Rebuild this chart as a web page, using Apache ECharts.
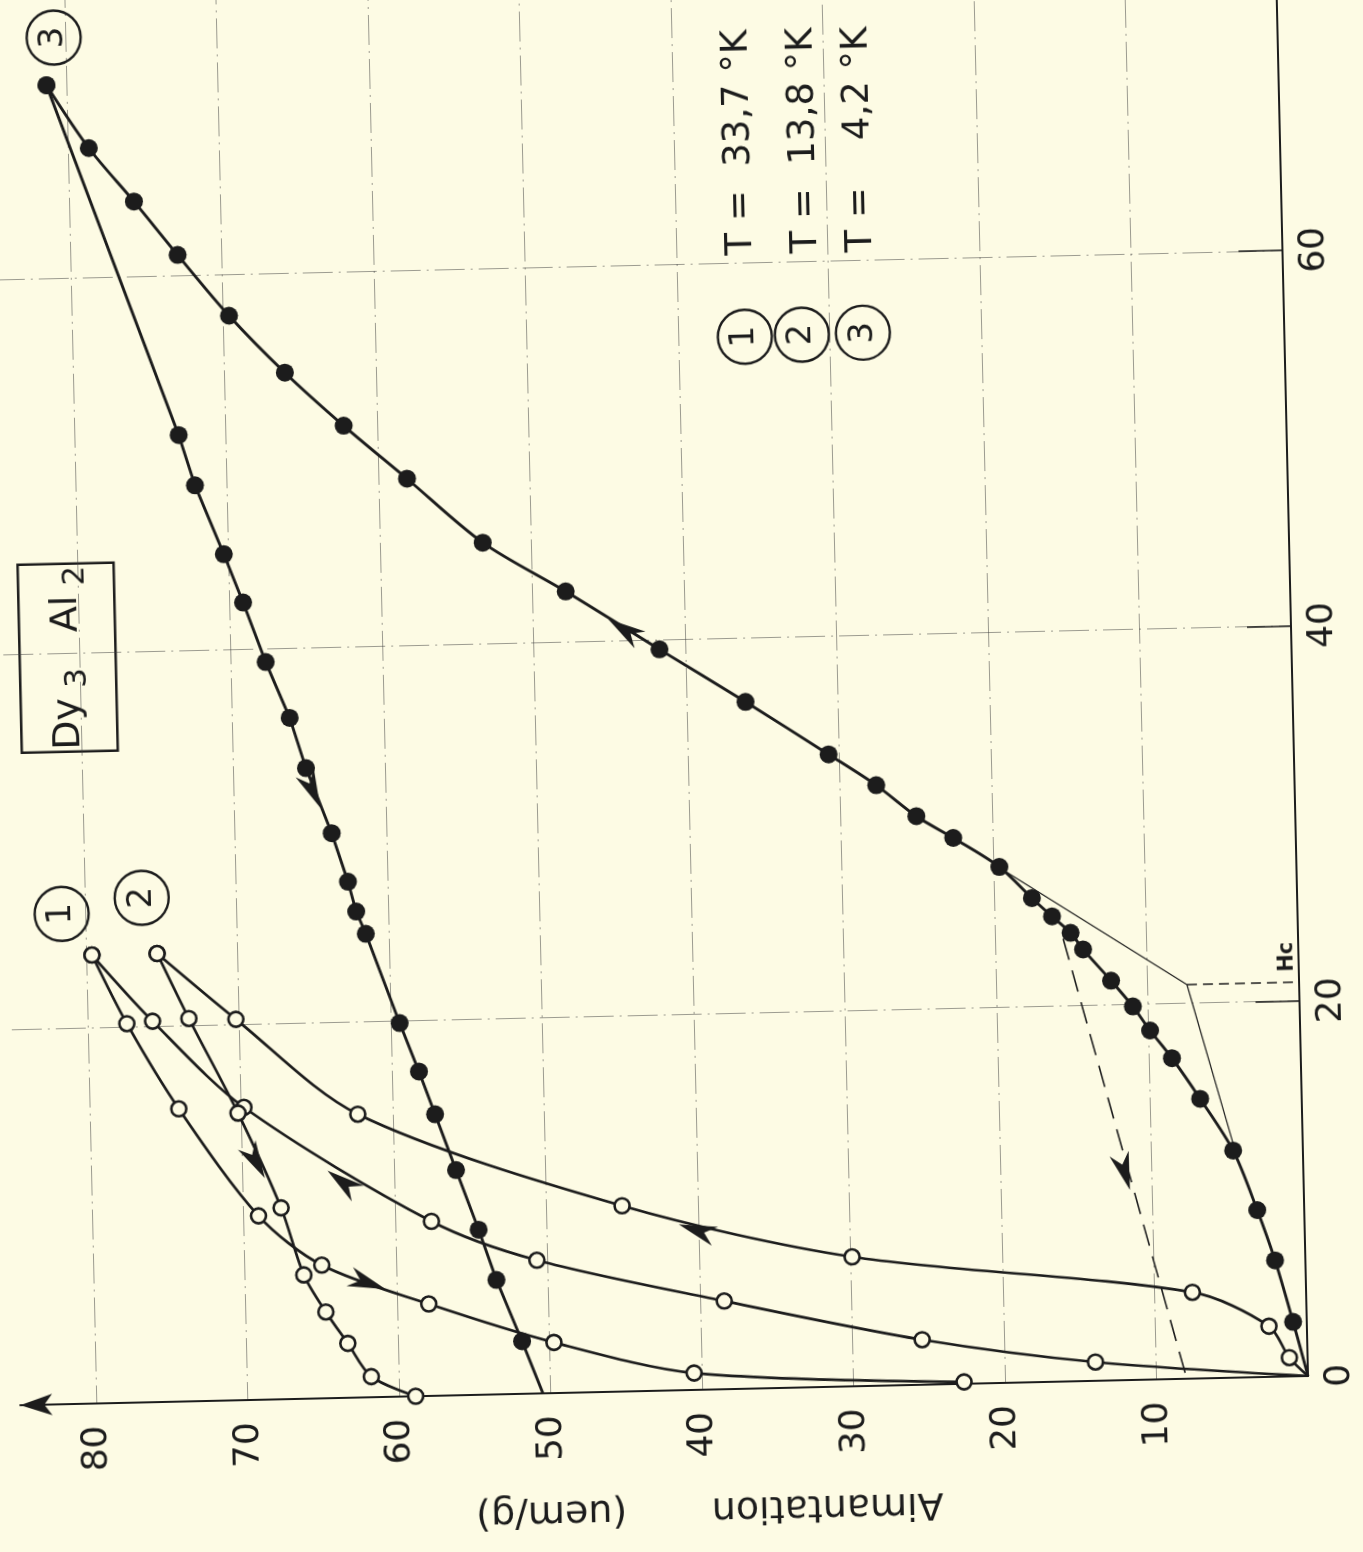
<!DOCTYPE html>
<html>
<head>
<meta charset="utf-8">
<script src="https://cdn.jsdelivr.net/npm/echarts@6/dist/echarts.min.js"></script>
<style>
html,body{margin:0;padding:0;width:1363px;height:1552px;overflow:hidden;background:#fdfbe4;}
#chart{position:absolute;left:0;top:-50px;width:1363px;height:1602px;transform-origin:1308px 1426px;transform:rotate(-1.3deg);}
</style>
</head>
<body>
<div id="chart"></div>
<script>
// ---- Data: magnetisation M (uem/g) versus applied field H (kOe), Dy3Al2 ----
const magTicks = [10, 20, 30, 40, 50, 60, 70, 80];
const fieldTicks = [0, 20, 40, 60];
const fieldGridTicks = [20, 40, 60];
const origin = [0, 0];

// Curve 1 : T = 33,7 K (open circles)
const c1UpM = [14.0, 25.4, 38.4, 50.7, 57.6, 69.8, 75.7, 79.6];
const c1UpH = [1.0, 2.4, 4.7, 7.1, 9.3, 15.6, 20.3, 23.9];
const c1DownM = [79.6, 77.4, 74.1, 69.0, 64.9, 57.9, 49.7, 40.5, 22.7];
const c1DownH = [23.9, 20.2, 15.6, 9.8, 7.1, 4.9, 2.7, 0.9, 0.1];

// Curve 2 : T = 13,8 K (open circles)
const c2UpM = [1.2, 2.5, 7.5, 29.9, 45.0, 62.3, 70.2, 75.3];
const c2UpH = [1.0, 2.7, 4.6, 6.9, 9.9, 15.1, 20.3, 23.9];
const c2DownM = [75.3, 73.3, 70.2, 67.5, 66.1, 64.7, 63.3, 61.8, 58.9];
const c2DownH = [23.9, 20.4, 15.3, 10.2, 6.6, 4.6, 2.9, 1.1, 0.0];

// Curve 3 : T = 4,2 K (filled dots)
const c3UpM = [0.9, 2.0, 3.1, 4.6, 6.7, 8.5, 9.9, 11.0, 12.4, 14.2, 15.0, 16.2, 17.5, 19.6, 22.6,
               25.0, 27.6, 30.7, 36.1, 41.7, 47.8, 53.2, 58.1, 62.2, 66.0, 69.6, 72.9, 75.7, 78.6, 81.3];
const c3UpH = [2.9, 6.2, 8.9, 12.1, 14.9, 17.1, 18.6, 19.9, 21.3, 23.0, 23.9, 24.8, 25.8, 27.5, 29.1,
               30.3, 32.0, 33.7, 36.6, 39.5, 42.7, 45.4, 48.9, 51.8, 54.7, 57.8, 61.1, 64.0, 66.9, 70.3];
const c3DownM = [81.3, 73.1, 72.1, 70.3, 69.1, 67.7, 66.2, 65.2, 63.6, 62.6, 62.1, 61.5, 59.4, 58.2, 57.2, 55.9, 54.5, 53.4, 51.8];
const c3DownH = [70.3, 51.5, 48.8, 45.1, 42.5, 39.3, 36.3, 33.6, 30.1, 27.5, 25.9, 24.7, 19.9, 17.3, 15.0, 12.0, 8.8, 6.1, 2.8];
const c3DownEnd = [50.5, 0];

// Construction lines for Hc and extrapolated (dashed) branch
const tangentM = [19.3, 7.4], tangentH = [27.3, 21.0];
const dropM = [7.4, 4.5], dropH = [21.0, 12.2];
const hcLevelM = [7.4, 0], hcLevelH = [21.0, 21.0];
const dashedM = [15.5, 8.0], dashedH = [23.6, 0];

// Direction arrows (position and a point they head toward)
const arrowM = [44.0, 64.8, 63.4, 61.9, 40.1, 69.1, 11.8];
const arrowH = [40.6, 32.4, 11.5, 6.1, 8.5, 12.7, 11.1];
const arrowToM = [47.8, 63.6, 69.8, 57.9, 45.0, 67.5, 8.0];
const arrowToH = [42.7, 30.1, 15.6, 4.9, 9.9, 10.2, 0];

const legendTexts = ['T =  33,7 °K', 'T =  13,8 °K', 'T =    4,2 °K'];

// ---- Styling ----
const INK = '#1c1c1c';
const PAPER = '#fdfbe4';
const FONT = 'DejaVu Sans';
const GRIDLINE = {color: '#3c3c3c', width: 1, opacity: 0.5, type: [30, 6, 2, 6]};

function pts(M, H) { return M.map((m, i) => [m, H[i]]); }
// convert a point of the (scan-tilted) page into the chart's own (div) frame
function U(px, py) {
  const dx = px - 1308, dy = py - 1376, s = 0.0227;
  return [1308 + dx - s * dy, 1426 + dy + s * dx];
}

const openItem = {color: PAPER, borderColor: INK, borderWidth: 2.6, opacity: 1};
const line = {color: INK, width: 2.7};

function curve(id, data, opts) {
  return Object.assign({
    id: id, type: 'line', data: data, smooth: 0.3, z: 3,
    symbol: 'circle', symbolSize: 15, showAllSymbol: true,
    lineStyle: line, itemStyle: openItem, emphasis: {disabled: true}
  }, opts || {});
}
function thin(id, data, style) {
  return {id: id, type: 'line', data: data, symbol: 'none', z: 1, lineStyle: style, emphasis: {disabled: true}};
}

const chart = echarts.init(document.getElementById('chart'), null, {renderer: 'canvas'});

const txt = (p, text, size, extra) => ({
  type: 'text', x: p[0], y: p[1], rotation: Math.PI / 2,
  style: Object.assign({text: text, fontSize: size, fontFamily: FONT, fill: INK,
    align: 'center', verticalAlign: 'middle', textAlign: 'center', textVerticalAlign: 'middle'}, extra || {})
});
const circ = (p, r) => ({type: 'circle', shape: {cx: p[0], cy: p[1], r: r}, style: {fill: 'none', stroke: INK, lineWidth: 2.4}});

const graphics = [];
// circled numbers near the curves
[[U(62, 914), '1'], [U(142, 898), '2'], [U(54, 38), '3']].forEach(([p, t]) => {
  graphics.push(circ(p, 27));
  graphics.push(txt(p, t, 34));
});
// legend
[[U(745, 337), U(737, 30), 0], [U(802, 335), U(802, 28), 1], [U(863, 333), U(857, 27), 2]].forEach(([pc, pt, i]) => {
  graphics.push(circ(pc, 27));
  graphics.push(txt(pc, String(i + 1), 34));
  graphics.push(txt(pt, legendTexts[i], 37, {align: 'right', textAlign: 'right'}));
});
// compound box
const boxC = U(68, 658);
graphics.push({type: 'rect', shape: {x: boxC[0] - 48, y: boxC[1] - 94, width: 96, height: 188},
  style: {fill: 'none', stroke: INK, lineWidth: 2.5}});
graphics.push(txt(boxC, '{b|Dy}{s| 3}   {b|Al}{s| 2}', 38, {
  rich: {b: {fontSize: 38, fontFamily: FONT, fill: INK}, s: {fontSize: 31, fontFamily: FONT, fill: INK, padding: [20, 0, 0, 0]}}
}));
// Hc label
graphics.push(txt(U(1287, 957), 'Hc', 21, {fontWeight: 'bold'}));
// field axis name (cut at the page edge)
graphics.push(txt(U(1365, 395), 'H   ( kOe )', 38));

const option = {
  backgroundColor: 'transparent',
  animation: false,
  textStyle: {fontFamily: FONT},
  grid: {left: 20, right: 55, top: 0, bottom: 176, containLabel: false},
  xAxis: {
    type: 'value', min: 0, max: 85, interval: 10, inverse: true, position: 'bottom',
    name: 'Aimantation       (uem/g)', nameLocation: 'middle', nameRotate: 180, nameGap: 100,
    nameTextStyle: {fontSize: 38, color: INK, fontFamily: FONT, padding: [0, 86, 0, 0]},
    axisLine: {show: true, symbol: ['arrow', 'none'], symbolSize: [16, 32], lineStyle: {color: INK, width: 2.2}},
    axisTick: {show: false, customValues: magTicks},
    axisLabel: {rotate: 90, margin: 22, fontSize: 36, color: INK, fontFamily: FONT,
      customValues: magTicks,
      formatter: v => (magTicks.indexOf(v) >= 0 ? String(v) : '')},
    splitLine: {show: true, lineStyle: GRIDLINE}
  },
  yAxis: {
    type: 'value', min: 0, max: 76, interval: 20, position: 'right',
    axisLine: {show: true, lineStyle: {color: INK, width: 2}},
    axisTick: {show: true, inside: true, length: 44, customValues: fieldGridTicks, lineStyle: {color: INK, width: 1.5}},
    axisLabel: {rotate: 90, margin: 14, fontSize: 36, color: INK, fontFamily: FONT,
      customValues: fieldTicks,
      formatter: v => (fieldTicks.indexOf(v) >= 0 ? String(v) : '')},
    splitLine: {show: true, lineStyle: GRIDLINE}
  },
  graphic: graphics,
  series: [
    thin('dashed', pts(dashedM, dashedH), {color: INK, width: 1.6, type: [22, 11]}),
    thin('tangent', pts(tangentM, tangentH), {color: INK, width: 1.2}),
    thin('drop', pts(dropM, dropH), {color: INK, width: 1.2}),
    thin('hc', pts(hcLevelM, hcLevelH), {color: INK, width: 1.4, type: [10, 6]}),
    curve('c1up', [{value: origin, symbol: 'none'}].concat(pts(c1UpM, c1UpH))),
    curve('c1down', pts(c1DownM, c1DownH)),
    curve('c2up', [{value: origin, symbol: 'none'}].concat(pts(c2UpM, c2UpH))),
    curve('c2down', pts(c2DownM, c2DownH)),
    curve('c3up', [{value: origin, symbol: 'none'}].concat(pts(c3UpM, c3UpH)),
      {symbolSize: 18, itemStyle: {color: INK, opacity: 1}, lineStyle: {color: INK, width: 2.9}}),
    curve('c3down', pts(c3DownM, c3DownH).concat([{value: c3DownEnd, symbol: 'none'}]),
      {smooth: false, symbolSize: 18, itemStyle: {color: INK, opacity: 1}, lineStyle: {color: INK, width: 2.9}}),
    {id: 'arrows', type: 'scatter', z: 5, data: [],
      symbol: 'path://M0,0 L10,30 L0,21 L-10,30 Z', symbolSize: [20, 38],
      itemStyle: {color: INK, opacity: 1}, emphasis: {disabled: true}}
  ]
};
chart.setOption(option);

const arrowData = arrowM.map((m, i) => {
  const p = chart.convertToPixel({gridIndex: 0}, [m, arrowH[i]]);
  const q = chart.convertToPixel({gridIndex: 0}, [arrowToM[i], arrowToH[i]]);
  const dx = q[0] - p[0], dy = q[1] - p[1];
  return {value: [m, arrowH[i]], symbolRotate: Math.atan2(-dx, -dy) * 180 / Math.PI};
});
chart.setOption({series: [{id: 'arrows', data: arrowData}]});
</script>
</body>
</html>
